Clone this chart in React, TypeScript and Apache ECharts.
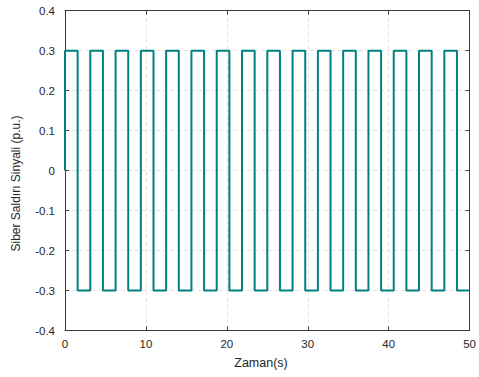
import React, { useEffect, useRef } from "react";
import * as echarts from "echarts";

const switchTimes = [
  0, 0, 1.5625, 3.125, 4.6875, 6.25, 7.8125, 9.375, 10.9375, 12.5, 14.0625,
  15.625, 17.1875, 18.75, 20.3125, 21.875, 23.4375, 25, 26.5625, 28.125,
  29.6875, 31.25, 32.8125, 34.375, 35.9375, 37.5, 39.0625, 40.625, 42.1875,
  43.75, 45.3125, 46.875, 48.4375, 50,
];
const levels = [
  0, 0.3, -0.3, 0.3, -0.3, 0.3, -0.3, 0.3, -0.3, 0.3, -0.3, 0.3, -0.3, 0.3,
  -0.3, 0.3, -0.3, 0.3, -0.3, 0.3, -0.3, 0.3, -0.3, 0.3, -0.3, 0.3, -0.3, 0.3,
  -0.3, 0.3, -0.3, 0.3, -0.3, -0.3,
];
const xTitle = "Zaman(s)";
const yTitle = "Siber Saldırı Sinyali (p.u.)";

export default function App() {
  const ref = useRef<HTMLDivElement>(null);
  useEffect(() => {
    if (!ref.current) return;
    const chart = echarts.init(ref.current, undefined, { renderer: "svg" });
    const axisColor = "#3a3a3a";
    const labelStyle = {
      color: "#262626",
      fontFamily: "Liberation Sans, Arial, sans-serif",
      fontSize: 11.5,
    };
    const splitLine = {
      show: true,
      lineStyle: { color: "#e2e2e2", type: [4, 3] as any, width: 1 },
    };
    const data = switchTimes.map((t, i) => [t, levels[i]]);
    chart.setOption({
      animation: false,
      backgroundColor: "#ffffff",
      grid: { left: 65, right: 2.4, top: 10.7, bottom: 46.5, containLabel: false },
      xAxis: [
        {
          type: "value",
          min: 0,
          max: 50,
          interval: 10,
          position: "bottom",
          axisLine: { show: true, onZero: false, lineStyle: { color: axisColor, width: 1 } },
          axisTick: { show: true, inside: true, length: 4, lineStyle: { color: axisColor } },
          axisLabel: { ...labelStyle, margin: 7 },
          splitLine,
        },
        {
          type: "value",
          min: 0,
          max: 50,
          interval: 10,
          position: "top",
          axisLine: { show: true, onZero: false, lineStyle: { color: axisColor, width: 1 } },
          axisTick: { show: true, inside: true, length: 4, lineStyle: { color: axisColor } },
          axisLabel: { show: false },
          splitLine: { show: false },
        },
      ],
      yAxis: [
        {
          type: "value",
          min: -0.4,
          max: 0.4,
          interval: 0.1,
          position: "left",
          axisLine: { show: true, onZero: false, lineStyle: { color: axisColor, width: 1 } },
          axisTick: { show: true, inside: true, length: 4, lineStyle: { color: axisColor } },
          axisLabel: {
            ...labelStyle,
            margin: 10,
            formatter: (v: number) => String(parseFloat(v.toFixed(1))),
          },
          splitLine,
        },
        {
          type: "value",
          min: -0.4,
          max: 0.4,
          interval: 0.1,
          position: "right",
          axisLine: { show: true, onZero: false, lineStyle: { color: axisColor, width: 1 } },
          axisTick: { show: true, inside: true, length: 4, lineStyle: { color: axisColor } },
          axisLabel: { show: false },
          splitLine: { show: false },
        },
      ],
      graphic: [
        {
          type: "text",
          x: 261,
          y: 363,
          style: {
            text: xTitle,
            fill: "#262626",
            font: "12.5px Liberation Sans, Arial, sans-serif",
            align: "center",
            verticalAlign: "middle",
          },
        },
        {
          type: "text",
          x: 16,
          y: 183.5,
          rotation: Math.PI / 2,
          style: {
            text: yTitle,
            fill: "#262626",
            font: "12px Liberation Sans, Arial, sans-serif",
            align: "center",
            verticalAlign: "middle",
          },
        },
      ],
      series: [
        {
          type: "line",
          xAxisIndex: 0,
          yAxisIndex: 0,
          step: "end",
          data,
          showSymbol: false,
          symbol: "none",
          lineStyle: { color: "#008080", width: 2 },
          z: 5,
        },
      ],
    });
    return () => chart.dispose();
  }, []);
  return <div ref={ref} style={{ width: 479, height: 377, position: "absolute", left: 0, top: 0 }} />;
}
